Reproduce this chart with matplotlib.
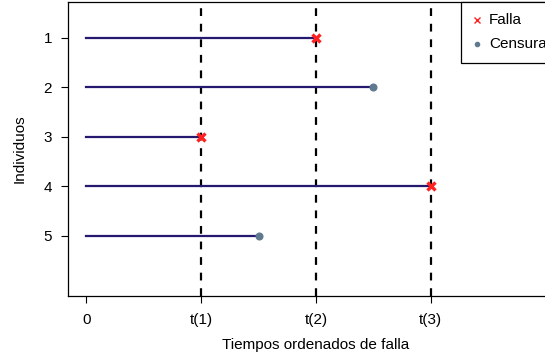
import matplotlib
matplotlib.use("Agg")
import matplotlib.pyplot as plt
from matplotlib.lines import Line2D
from matplotlib.patches import Rectangle

plt.rcParams['font.family'] = ['Liberation Sans', 'DejaVu Sans']

individuos = [1, 2, 3, 4, 5]
inicio = [0, 0, 0, 0, 0]
fin = [2, 2.5, 1, 3, 1.5]
evento = ['Falla', 'Censura', 'Falla', 'Falla', 'Censura']
tiempos_falla = [1, 2, 3]
xtick_pos = [0, 1, 2, 3]
xtick_labels = ['0', 't(1)', 't(2)', 't(3)']
leyenda = ['Falla', 'Censura']

W, H = 545, 360
FS = 11
col_falla = '#ff2020'
col_cens = '#5f7a8f'
col_linea = '#24186f'

fig = plt.figure(figsize=(W/100, H/100), dpi=100)
ax = fig.add_axes([68/W, 1-296/H, (564-68)/W, (296-2)/H])

for t in tiempos_falla:
    ax.axvline(t, color='black', lw=1.6, ls=(0, (3.5, 3.5)), zorder=1)

for y, a, b, e in zip(individuos, inicio, fin, evento):
    ax.plot([a, b], [y, y], color=col_linea, lw=1.6, zorder=2)
    if e == 'Falla':
        ax.plot(b, y, marker='x', color=col_falla, ms=6, mew=2.4, zorder=3)
    else:
        ax.plot(b, y, marker='o', color=col_cens, ms=4.8, zorder=3)

ax.set_xlim(-0.16, 4.16)
ax.set_ylim(6.22, 0.28)
ax.set_xticks(xtick_pos)
ax.set_xticklabels(xtick_labels)
ax.set_yticks(individuos)
ax.set_yticklabels([str(i) for i in individuos])
ax.tick_params(axis='both', direction='out', length=5, width=0.8, labelsize=FS, colors='black')
ax.tick_params(axis='x', pad=7.5)
ax.tick_params(axis='y', pad=6.5)
for s in ax.spines.values():
    s.set_linewidth(0.9)

ax.set_xlabel('Tiempos ordenados de falla', fontsize=FS, labelpad=8)
ax.set_ylabel('Individuos', fontsize=FS, labelpad=12)

# legend drawn in figure pixel coordinates (R-style, anchored top-right of the plot region)
def fx(px):
    return px / W

def fy(py):
    return 1 - py / H

fig.patches.append(Rectangle((fx(461), fy(63)), fx(564) - fx(461), fy(2) - fy(63),
                             transform=fig.transFigure, facecolor='white',
                             edgecolor='black', lw=0.9, zorder=5))
fig.lines.append(Line2D([fx(477)], [fy(20)], transform=fig.transFigure, ls='none',
                        marker='x', color=col_falla, ms=4.5, mew=1.0, zorder=6))
fig.lines.append(Line2D([fx(477)], [fy(44)], transform=fig.transFigure, ls='none',
                        marker='o', color=col_cens, ms=3, zorder=6))
for lab, py in zip(leyenda, [20, 44]):
    fig.text(fx(489), fy(py), lab, fontsize=FS, va='center', ha='left', zorder=6)

fig.savefig('out.png', dpi=100)
